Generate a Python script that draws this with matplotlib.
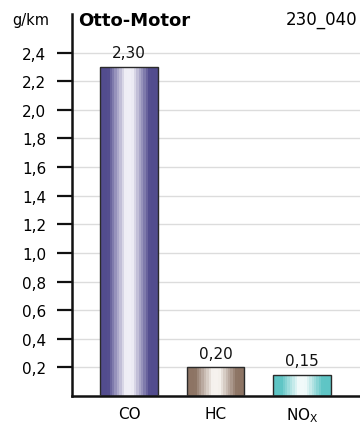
import numpy as np
import matplotlib
matplotlib.use("Agg")
import matplotlib.pyplot as plt
from matplotlib.colors import LinearSegmentedColormap
from matplotlib.patches import Rectangle

plt.rcParams['font.family'] = ['DejaVu Sans']
plt.rcParams['mathtext.fontset'] = 'dejavusans'

# Emission values per pollutant (g/km)
categories = ['CO', 'HC', 'NO$_\\mathrm{X}$']
values = [2.30, 0.20, 0.15]
value_labels = ['2,30', '0,20', '0,15']
yticks = [0.2, 0.4, 0.6, 0.8, 1.0, 1.2, 1.4, 1.6, 1.8, 2.0, 2.2, 2.4]
ytick_labels = ['0,2', '0,4', '0,6', '0,8', '1,0', '1,2', '1,4', '1,6', '1,8', '2,0', '2,2', '2,4']

# Edge / centre colours of each cylindrical bar
bar_colors = [('#524c8e', '#efeef6'), ('#8d7464', '#f6f2ee'), ('#5ec5c5', '#f1fafa')]

W, H = 360, 427
fig = plt.figure(figsize=(W / 100, H / 100), dpi=100)
ax = fig.add_axes([72 / W, 1 - 397 / H, 1 - 72 / W, 382 / H])
ax.set_xlim(-0.659, 2.67)
ax.set_ylim(0, 2.67)

for y in yticks:
    ax.axhline(y, color='#dcdcdc', lw=1.0, zorder=0)

width = 0.66
n_steps = 24
for i, (v, (edge, centre)) in enumerate(zip(values, bar_colors)):
    cmap = LinearSegmentedColormap.from_list(
        'bar', [(0.0, edge), (0.14, edge), (0.44, centre), (0.56, centre),
                (0.86, edge), (1.0, edge)])
    grad = np.linspace(0, 1, 240)
    grad = (np.floor(grad * n_steps) + 0.5) / n_steps
    x0, x1 = i - width / 2, i + width / 2
    im = ax.imshow(grad[np.newaxis, :], cmap=cmap, aspect='auto', vmin=0, vmax=1,
                   extent=[x0, x1, 0, v], zorder=2, interpolation='nearest')
    rect = Rectangle((x0, 0), width, v, fill=False, edgecolor='#2a2a2a', lw=1.0, zorder=3)
    ax.add_patch(rect)
    im.set_clip_path(rect)
    ax.text(i, v + 0.045, value_labels[i], ha='center', va='bottom', fontsize=11, color='#111111')

ax.set_yticks(yticks)
ax.set_yticklabels(ytick_labels, fontsize=11)
ax.set_xticks(range(len(categories)))
ax.set_xticklabels(categories, fontsize=11)
ax.tick_params(axis='y', length=10.5, width=1.6, pad=8, color='#111111')
ax.tick_params(axis='x', length=0, pad=7)
for s in ['top', 'right']:
    ax.spines[s].set_visible(False)
ax.spines['left'].set_linewidth(1.8)
ax.spines['bottom'].set_linewidth(1.8)
ax.spines['left'].set_color('#111111')
ax.spines['bottom'].set_color('#111111')

fig.text(12 / W, 1 - 20 / H, 'g/km', fontsize=10.5, va='center', ha='left')
fig.text(78 / W, 1 - 21 / H, 'Otto-Motor', fontsize=13, fontweight='bold', va='center', ha='left')
fig.text(357 / W, 1 - 20 / H, '230_040', fontsize=12, va='center', ha='right')

fig.savefig('out.png', dpi=100)
